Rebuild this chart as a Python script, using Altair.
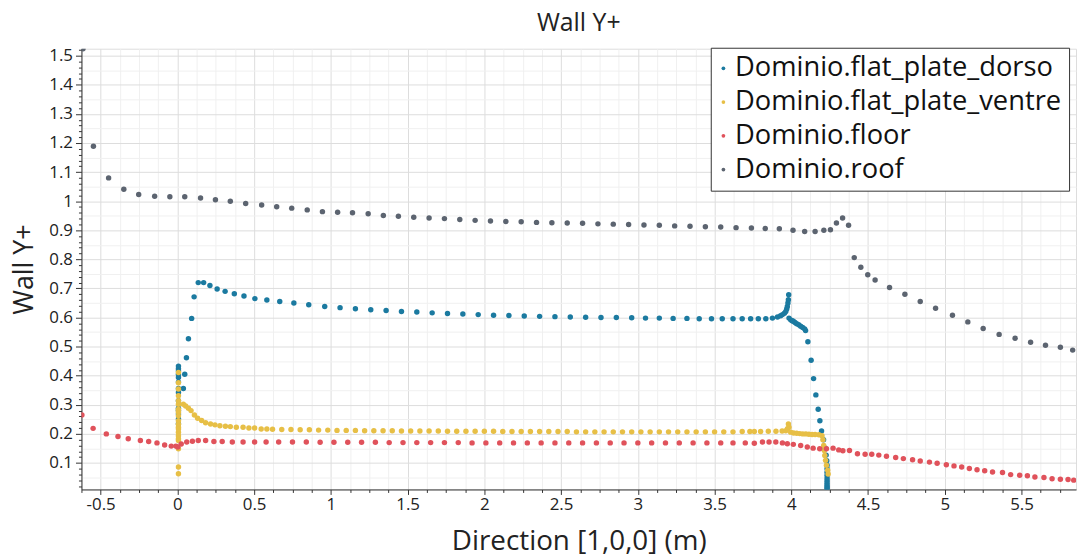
import altair as alt
import pandas as pd

SERIES = ["Dominio.flat_plate_dorso", "Dominio.flat_plate_ventre", "Dominio.floor", "Dominio.roof"]
COLORS = ["#1b7aa0", "#e7bf46", "#e0525b", "#5c6470"]

dorso_pts = [
    (0.007, 0.235), (0.007, 0.251), (0.007, 0.268), (0.007, 0.280), (0.007, 0.288), (0.007, 0.314),
    (0.007, 0.342), (0.007, 0.356), (0.007, 0.378), (0.007, 0.394), (0.007, 0.405), (0.007, 0.416),
    (0.007, 0.424), (0.007, 0.433),
    (0.039, 0.356), (0.048, 0.405), (0.059, 0.462), (0.072, 0.527), (0.093, 0.597), (0.109, 0.671),
    (0.136, 0.720), (0.171, 0.720), (0.212, 0.710), (0.259, 0.698), (0.311, 0.690), (0.371, 0.682),
    (0.434, 0.674), (0.505, 0.665), (0.583, 0.660), (0.667, 0.655), (0.759, 0.650), (0.856, 0.644),
    (0.960, 0.638), (1.060, 0.634),
    (1.16, 0.630), (1.26, 0.627), (1.36, 0.624), (1.46, 0.621), (1.56, 0.619), (1.66, 0.616),
    (1.76, 0.614), (1.86, 0.612), (1.96, 0.610), (2.06, 0.608), (2.16, 0.607), (2.26, 0.605),
    (2.36, 0.604), (2.46, 0.603), (2.56, 0.602), (2.66, 0.601), (2.76, 0.600), (2.86, 0.600),
    (2.96, 0.599), (3.05, 0.598), (3.14, 0.598), (3.23, 0.597), (3.32, 0.597), (3.40, 0.596),
    (3.48, 0.596), (3.55, 0.596), (3.62, 0.596), (3.68, 0.596), (3.735, 0.596), (3.785, 0.596),
    (3.834, 0.596), (3.877, 0.598), (3.910, 0.602), (3.930, 0.606), (3.942, 0.610), (3.955, 0.615),
    (3.964, 0.621), (3.970, 0.629), (3.974, 0.638), (3.978, 0.650), (3.981, 0.661), (3.983, 0.678),
    (3.985, 0.598), (3.996, 0.592), (4.005, 0.589), (4.013, 0.587), (4.024, 0.583), (4.035, 0.579),
    (4.048, 0.575), (4.061, 0.570), (4.074, 0.566), (4.087, 0.561), (4.093, 0.555), (4.108, 0.517),
    (4.129, 0.453), (4.145, 0.390), (4.160, 0.334), (4.175, 0.285), (4.186, 0.245), (4.197, 0.210),
    (4.210, 0.180), (4.220, 0.152), (4.227, 0.127), (4.231, 0.108), (4.233, 0.092), (4.233, 0.080),
    (4.233, 0.068), (4.233, 0.058), (4.233, 0.048), (4.233, 0.040), (4.233, 0.032), (4.233, 0.025),
    (4.233, 0.019), (4.233, 0.014), (4.233, 0.010),
]

ventre_pts = [
    (0.007, 0.063), (0.007, 0.086), (0.007, 0.149), (0.007, 0.177), (0.007, 0.183), (0.007, 0.194),
    (0.007, 0.206), (0.007, 0.217), (0.007, 0.223), (0.007, 0.233), (0.007, 0.245), (0.007, 0.262),
    (0.007, 0.274), (0.007, 0.280), (0.007, 0.285), (0.007, 0.302), (0.007, 0.314), (0.007, 0.331),
    (0.007, 0.354), (0.007, 0.376), (0.007, 0.411),
    (0.039, 0.302), (0.054, 0.296), (0.072, 0.288), (0.089, 0.280), (0.111, 0.265), (0.132, 0.254),
    (0.158, 0.246), (0.184, 0.238), (0.216, 0.234), (0.245, 0.231), (0.277, 0.228), (0.313, 0.226),
    (0.345, 0.225), (0.384, 0.223), (0.428, 0.223), (0.466, 0.220), (0.503, 0.220), (0.546, 0.217),
    (0.583, 0.217),
    (0.62, 0.216), (0.68, 0.215), (0.74, 0.215), (0.80, 0.214), (0.86, 0.214), (0.92, 0.213),
    (0.98, 0.213), (1.04, 0.212), (1.10, 0.212), (1.16, 0.212), (1.22, 0.211), (1.28, 0.211),
    (1.34, 0.211), (1.40, 0.211), (1.46, 0.210), (1.52, 0.210), (1.58, 0.210), (1.64, 0.210),
    (1.70, 0.210), (1.76, 0.209), (1.82, 0.209), (1.88, 0.209), (1.94, 0.209), (2.00, 0.209),
    (2.06, 0.209), (2.12, 0.208), (2.18, 0.208), (2.24, 0.208), (2.30, 0.208), (2.36, 0.208),
    (2.42, 0.208), (2.48, 0.208), (2.54, 0.208), (2.60, 0.207), (2.66, 0.207), (2.72, 0.207),
    (2.78, 0.207), (2.84, 0.207), (2.90, 0.207), (2.96, 0.207), (3.02, 0.207), (3.08, 0.207),
    (3.14, 0.207), (3.20, 0.207), (3.26, 0.207), (3.32, 0.207), (3.38, 0.207), (3.44, 0.207),
    (3.50, 0.207), (3.56, 0.207), (3.62, 0.207), (3.68, 0.208), (3.73, 0.208),
    (3.759, 0.208), (3.80, 0.208), (3.85, 0.209), (3.90, 0.209), (3.94, 0.210), (3.964, 0.211),
    (3.975, 0.218), (3.981, 0.234), (3.985, 0.223), (3.996, 0.206), (4.015, 0.203), (4.035, 0.202),
    (4.055, 0.201), (4.075, 0.200), (4.095, 0.200), (4.115, 0.199), (4.135, 0.198), (4.155, 0.198),
    (4.179, 0.197), (4.200, 0.194), (4.206, 0.180), (4.211, 0.160), (4.215, 0.143), (4.218, 0.126),
    (4.223, 0.109), (4.229, 0.092), (4.237, 0.075), (4.240, 0.062),
]

floor_pts = [
    (-0.622, 0.265), (-0.549, 0.219), (-0.463, 0.200), (-0.387, 0.191), (-0.320, 0.183), (-0.241, 0.177),
    (-0.187, 0.174), (-0.133, 0.169), (-0.083, 0.162), (-0.040, 0.158), (-0.010, 0.158), (0.003, 0.155),
    (0.025, 0.165), (0.061, 0.172), (0.098, 0.175), (0.136, 0.177), (0.184, 0.177), (0.238, 0.174),
    (0.292, 0.174), (0.358, 0.172), (0.428, 0.172), (0.503, 0.172), (0.578, 0.172),
    (0.66, 0.172), (0.75, 0.172), (0.84, 0.172), (0.93, 0.171), (1.02, 0.171), (1.11, 0.171),
    (1.20, 0.171), (1.29, 0.171), (1.38, 0.170), (1.47, 0.170), (1.56, 0.170), (1.65, 0.170),
    (1.74, 0.170), (1.83, 0.170), (1.92, 0.169), (2.01, 0.169), (2.10, 0.169), (2.19, 0.169),
    (2.28, 0.169), (2.37, 0.169), (2.46, 0.169), (2.55, 0.169), (2.64, 0.169), (2.73, 0.169),
    (2.82, 0.169), (2.91, 0.169), (3.00, 0.169), (3.09, 0.169), (3.18, 0.169), (3.27, 0.169),
    (3.36, 0.169), (3.45, 0.169), (3.54, 0.169), (3.62, 0.169), (3.70, 0.169),
    (3.759, 0.168), (3.812, 0.172), (3.855, 0.172), (3.899, 0.172), (3.942, 0.169), (3.974, 0.166),
    (4.013, 0.164), (4.061, 0.160), (4.104, 0.155), (4.142, 0.151), (4.185, 0.149), (4.229, 0.149),
    (4.272, 0.151), (4.309, 0.145), (4.336, 0.142), (4.379, 0.143), (4.431, 0.132), (4.481, 0.130),
    (4.524, 0.130), (4.57, 0.127), (4.62, 0.123), (4.68, 0.119), (4.73, 0.115), (4.79, 0.111),
    (4.84, 0.107), (4.90, 0.103), (4.95, 0.099), (5.01, 0.094), (5.06, 0.090), (5.11, 0.086),
    (5.16, 0.081), (5.21, 0.077), (5.26, 0.073), (5.311, 0.069), (5.376, 0.067), (5.429, 0.060),
    (5.488, 0.058), (5.538, 0.056), (5.587, 0.052), (5.646, 0.050), (5.699, 0.046), (5.753, 0.044),
    (5.803, 0.043), (5.840, 0.041),
]

roof_pts = [
    (-0.615, 1.524), (-0.547, 1.189), (-0.448, 1.080), (-0.349, 1.041), (-0.252, 1.023), (-0.148, 1.017),
    (-0.049, 1.015), (0.048, 1.015), (0.151, 1.011), (0.248, 1.005), (0.345, 1.000), (0.445, 0.992),
    (0.549, 0.987), (0.647, 0.981), (0.745, 0.976), (0.846, 0.970), (0.945, 0.964), (1.044, 0.962),
    (1.141, 0.960), (1.243, 0.957), (1.342, 0.951), (1.44, 0.948), (1.54, 0.945), (1.64, 0.942),
    (1.74, 0.940), (1.84, 0.937), (1.94, 0.934), (2.04, 0.932), (2.14, 0.930), (2.24, 0.929),
    (2.34, 0.927), (2.44, 0.926), (2.54, 0.925), (2.64, 0.924), (2.74, 0.922), (2.84, 0.921),
    (2.94, 0.920), (3.04, 0.918), (3.14, 0.917), (3.24, 0.915), (3.34, 0.914), (3.44, 0.912),
    (3.54, 0.911), (3.64, 0.909), (3.74, 0.908), (3.83, 0.906), (3.922, 0.905), (4.011, 0.900),
    (4.087, 0.896), (4.155, 0.896), (4.212, 0.900), (4.255, 0.902), (4.294, 0.925), (4.334, 0.942),
    (4.373, 0.917), (4.410, 0.806), (4.453, 0.773), (4.498, 0.747), (4.546, 0.729), (4.64, 0.703),
    (4.74, 0.680), (4.84, 0.655), (4.94, 0.632), (5.05, 0.608), (5.15, 0.585), (5.25, 0.562),
    (5.354, 0.542), (5.458, 0.529), (5.559, 0.515), (5.656, 0.505), (5.753, 0.498), (5.833, 0.488),
]

X_DOMAIN = [-0.625, 5.855]
Y_DOMAIN = [0.009, 1.524]
X_TICKS = [round(-0.625 + 0.125 * i, 3) for i in range(52)]
Y_TICKS = [v / 100 for v in range(1, 153) if v % 2 == 0 or v % 5 == 0]

rows = []
for name, pts in zip(SERIES, [dorso_pts, ventre_pts, floor_pts, roof_pts]):
    for x, y in pts:
        rows.append({"x": x, "y": y, "series": name})
df = pd.DataFrame(rows)

FONT = "Open Sans"
x_major = "abs(round(datum.value*1000)) % 500 == 0"
y_major = "abs(round(datum.value*100)) % 10 == 0"
y_grid = "abs(round(datum.value*100)) % 5 == 0"
y_tick = "abs(round(datum.value*100)) % 2 == 0"

x_axis = alt.Axis(
    values=X_TICKS,
    title="Direction [1,0,0] (m)",
    labelExpr=f"{x_major} ? toString(datum.value) : ''",
    labelOverlap=False,
    labelFlush=False,
    labelFont=FONT, labelFontSize=17, labelColor="#222", labelPadding=2,
    titleFont=FONT, titleFontSize=28, titleFontWeight="normal", titleColor="#222", titlePadding=16,
    tickSize={"condition": {"test": x_major, "value": 5}, "value": 3},
    tickColor="#333", domainColor="#333",
    gridColor={"condition": {"test": x_major, "value": "#dddddd"}, "value": "#f0f0f0"},
)
y_axis = alt.Axis(
    values=Y_TICKS,
    title="Wall Y+",
    labelExpr=f"{y_major} ? toString(datum.value) : ''",
    labelOverlap=False,
    labelFlush=False,
    labelFont=FONT, labelFontSize=17, labelColor="#222", labelPadding=3,
    titleFont=FONT, titleFontSize=27, titleFontWeight="normal", titleColor="#222", titlePadding=10,
    tickSize={"condition": {"test": y_major, "value": 6}, "value": 3},
    tickOpacity={"condition": {"test": y_tick, "value": 1}, "value": 0},
    tickColor="#333", domainColor="#333",
    gridColor={"condition": {"test": y_major, "value": "#dddddd"}, "value": "#f0f0f0"},
    gridOpacity={"condition": {"test": y_grid, "value": 1}, "value": 0},
)

chart = alt.Chart(df).mark_circle(size=30, opacity=1, clip=True).encode(
    x=alt.X("x:Q", scale=alt.Scale(domain=X_DOMAIN, nice=False, zero=False), axis=x_axis),
    y=alt.Y("y:Q", scale=alt.Scale(domain=Y_DOMAIN, nice=False, zero=False), axis=y_axis),
    color=alt.Color(
        "series:N",
        scale=alt.Scale(domain=SERIES, range=COLORS),
        legend=alt.Legend(
            title=None, orient="none", legendX=634, legendY=-1,
            labelFont=FONT, labelFontSize=27.5, labelColor="#111", labelLimit=0,
            symbolType="circle", symbolSize=14, symbolOpacity=1, symbolStrokeWidth=0,
            symbolOffset={"expr": "-8"}, labelOffset={"expr": "-2"},
            rowPadding=5, padding=7,
            strokeColor="#333", fillColor="white", cornerRadius=0,
        ),
    ),
).properties(
    width=1002, height=444,
    title=alt.TitleParams("Wall Y+", font=FONT, fontSize=25, fontWeight="normal", color="#222",
                          anchor="middle", offset=5),
    autosize=alt.AutoSizeParams(type="none"),
    padding={"left": 74, "top": 39, "right": 4, "bottom": 64},
).configure_view(stroke=None).configure(background="white")

chart.save("out.html", embed_options={"renderer": "svg", "actions": False})
